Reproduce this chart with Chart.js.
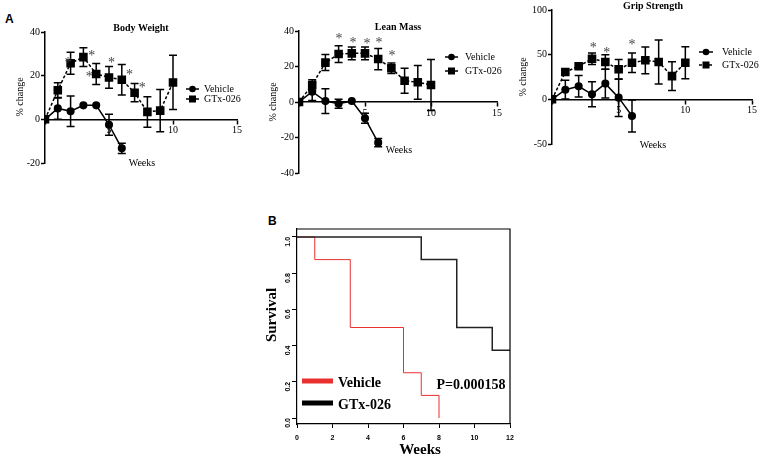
<!DOCTYPE html>
<html lang="en">
<head>
<meta charset="UTF-8">
<title>GTx-026 body composition and survival</title>
<script src="https://cdn.jsdelivr.net/npm/chart.js"></script>
<style>
  body { margin: 0; background: #fff; }
  #wrap { position: relative; width: 760px; height: 458px; overflow: hidden; }
  canvas { position: absolute; }
  .tag { position: absolute; font: bold 12px "Liberation Sans", Arial, sans-serif; color: #000; }
</style>
</head>
<body>
<div id="wrap">
  <div class="tag" style="left:5px;top:12px">A</div>
  <div class="tag" style="left:268px;top:214px">B</div>
  <canvas id="bw" width="250" height="190" style="left:0;top:0"></canvas>
  <canvas id="lm" width="256" height="190" style="left:250px;top:0"></canvas>
  <canvas id="gs" width="260" height="190" style="left:500px;top:0"></canvas>
  <canvas id="surv" width="290" height="243" style="left:240px;top:215px"></canvas>
</div>
<script>
// weeks on study
const weeks = [0, 1, 2, 3, 4, 5, 6, 7, 8, 9, 10];
const vehicleWeeks = [0, 1, 2, 3, 4, 5, 6];

// body weight, % change
const bwVehicle = [0, 5, 3.7, 6.4, 6.4, -2.5, -13.3];
const bwVehicleErr = [0, 5, 7, 0, 0, 4.8, 2.4];
const bwGtx = [0, 13.3, 25.7, 28.5, 20.8, 19.2, 18.1, 12.2, 3.4, 4, 16.9];
const bwGtxErr = [0, 3.5, 5, 4.3, 4.8, 5, 7, 4.2, 7, 9.7, 12.4];
const bwStars = [[1.8, 27], [3.65, 30], [3.45, 20.5], [5.2, 27], [6.6, 21.5], [7.6, 15.5]];

// lean mass, % change
const lmVehicle = [0, 5.8, 0.5, -1, 0.6, -9.2, -22.9];
const lmVehicleErr = [0, 5, 7, 2.5, 0, 2.8, 2.3];
const lmGtx = [0, 9.6, 22.2, 27, 27.4, 27.4, 24.2, 19, 12, 11.1, 9.6];
const lmGtxErr = [0, 3, 4.5, 4.7, 3.6, 3.6, 6, 3, 7, 9.5, 14.4];
const lmStars = [[3.03, 37], [4.1, 34.5], [5.15, 34], [6.06, 34.5], [7.05, 27.5]];

// grip strength, % change
const gsVehicle = [0, 10.8, 14.6, 5.6, 17.6, 1.9, -18.7];
const gsVehicleErr = [0, 10.5, 12, 14, 16, 21, 18];
const gsGtx = [0, 30.6, 37, 45.5, 41.8, 33.6, 41, 43.7, 41.8, 26, 41];
const gsGtxErr = [0, 0, 0, 6.5, 8, 11, 11, 15, 24.5, 16, 18];
const gsStars = [[3.1, 60.5], [4.1, 55], [6.0, 64]];

// Kaplan-Meier survival
const survVehicleWeeks = [0, 1, 3, 6, 7, 8];
const survVehicle = [1, 0.875, 0.5, 0.25, 0.125, 0];
const survGtxWeeks = [0, 7, 9, 11, 12];
const survGtx = [1, 0.875, 0.5, 0.375, 0.375];

const SERIF = '"Liberation Serif", "Times New Roman", serif';
const SANS = '"Liberation Sans", Arial, sans-serif';
const pts = (xs, ys) => xs.map((x, i) => ({ x: x, y: ys[i] }));

function text(ctx, str, x, y, font, align, rot) {
  ctx.save();
  ctx.font = font;
  ctx.fillStyle = '#000';
  ctx.textAlign = align || 'center';
  ctx.textBaseline = 'middle';
  ctx.translate(x, y);
  if (rot) ctx.rotate(rot);
  ctx.fillText(str, 0, 0);
  ctx.restore();
}

function extras(cfg) {
  return {
    id: 'extras',
    beforeDatasetsDraw(chart) {
      const { ctx, scales: { x, y } } = chart;
      ctx.save();
      ctx.strokeStyle = '#000';
      ctx.lineWidth = 1.5;
      [[vehicleWeeks, cfg.veh, cfg.vehErr], [weeks, cfg.gtx, cfg.gtxErr]].forEach(([xs, ys, es]) => {
        xs.forEach((w, i) => {
          if (!es[i]) return;
          const px = x.getPixelForValue(w);
          const t = y.getPixelForValue(ys[i] + es[i]);
          const b = y.getPixelForValue(ys[i] - es[i]);
          ctx.beginPath();
          ctx.moveTo(px, t); ctx.lineTo(px, b);
          ctx.moveTo(px - 4, t); ctx.lineTo(px + 4, t);
          ctx.moveTo(px - 4, b); ctx.lineTo(px + 4, b);
          ctx.stroke();
        });
      });
      ctx.restore();
    },
    afterDraw(chart) {
      const { ctx, scales: { x, y } } = chart;
      // significance marks
      ctx.save();
      ctx.font = '14px ' + SERIF;
      ctx.fillStyle = '#444';
      ctx.textAlign = 'center';
      ctx.textBaseline = 'alphabetic';
      cfg.stars.forEach(([w, v]) => {
        ctx.fillText('*', x.getPixelForValue(w), y.getPixelForValue(v) + 6.5);
      });
      ctx.restore();
      text(ctx, cfg.title, cfg.titleX, cfg.titleY, 'bold 10px ' + SERIF);
      text(ctx, 'Weeks', cfg.weeksX, cfg.weeksY, '10px ' + SERIF);
      text(ctx, '% change', cfg.yTitleX, cfg.yTitleY, '10px ' + SERIF, 'center', -Math.PI / 2);
      // legend
      const L = cfg.legend;
      [['Vehicle', L.y1, [], 'circle'], ['GTx-026', L.y2, [3, 2], 'rect']].forEach(([lab, ly, dash, shape]) => {
        ctx.save();
        ctx.strokeStyle = '#000';
        ctx.fillStyle = '#000';
        ctx.lineWidth = 1.5;
        ctx.setLineDash(dash);
        ctx.beginPath();
        ctx.moveTo(L.x1, ly); ctx.lineTo(L.x2, ly);
        ctx.stroke();
        ctx.setLineDash([]);
        const mx = (L.x1 + L.x2) / 2;
        if (shape === 'circle') {
          ctx.beginPath(); ctx.arc(mx, ly, 3.3, 0, Math.PI * 2); ctx.fill();
        } else {
          ctx.fillRect(mx - 3.5, ly - 3.5, 7, 7);
        }
        ctx.restore();
        text(ctx, lab, L.tx, ly, '10px ' + SERIF, 'left');
      });
    }
  };
}

function panel(id, cfg) {
  const axisTicks = { font: { family: SERIF, size: 10 }, color: '#000', padding: 1 };
  const grid = { drawOnChartArea: false, color: '#000', tickLength: 4, tickWidth: 1.5 };
  const border = { color: '#000', width: 1.5 };
  return new Chart(document.getElementById(id), {
    type: 'line',
    data: {
      datasets: [
        {
          label: 'Vehicle',
          data: pts(vehicleWeeks, cfg.veh),
          borderColor: '#000', backgroundColor: '#000',
          borderWidth: 1.5, pointStyle: 'circle', pointRadius: 3.3, tension: 0
        },
        {
          label: 'GTx-026',
          data: pts(weeks, cfg.gtx),
          borderColor: '#000', backgroundColor: '#000',
          borderWidth: 1.5, borderDash: [3, 2], pointStyle: 'rect', pointRadius: 5, tension: 0
        }
      ]
    },
    options: {
      responsive: false,
      animation: false,
      devicePixelRatio: 1,
      layout: { padding: cfg.pad },
      plugins: { legend: { display: false }, tooltip: { enabled: false } },
      scales: {
        x: {
          type: 'linear', min: 0, max: 15, position: { y: 0 },
          ticks: Object.assign({ stepSize: 5, maxRotation: 0, callback: v => (v === 0 ? '' : v) }, axisTicks),
          grid: grid, border: border
        },
        y: {
          min: cfg.ymin, max: cfg.ymax,
          ticks: Object.assign({ stepSize: cfg.ystep }, axisTicks),
          grid: grid, border: border,
          afterFit: s => { s.width = cfg.yw; }
        }
      }
    },
    plugins: [extras(cfg)]
  });
}

panel('bw', {
  veh: bwVehicle, vehErr: bwVehicleErr, gtx: bwGtx, gtxErr: bwGtxErr, stars: bwStars,
  ymin: -20, ymax: 40, ystep: 20, yw: 45,
  pad: { top: 32, right: 13, bottom: 27, left: 0 },
  title: 'Body Weight', titleX: 141, titleY: 28,
  weeksX: 142, weeksY: 163, yTitleX: 20, yTitleY: 97,
  legend: { x1: 186, x2: 199, tx: 204, y1: 89, y2: 99 }
});

panel('lm', {
  veh: lmVehicle, vehErr: lmVehicleErr, gtx: lmGtx, gtxErr: lmGtxErr, stars: lmStars,
  ymin: -40, ymax: 40, ystep: 20, yw: 49,
  pad: { top: 31, right: 9, bottom: 17, left: 0 },
  title: 'Lean Mass', titleX: 148, titleY: 27,
  weeksX: 149, weeksY: 150, yTitleX: 23, yTitleY: 102,
  legend: { x1: 195, x2: 208, tx: 215, y1: 57, y2: 71 }
});

panel('gs', {
  veh: gsVehicle, vehErr: gsVehicleErr, gtx: gsGtx, gtxErr: gsGtxErr, stars: gsStars,
  ymin: -50, ymax: 100, ystep: 50, yw: 52,
  pad: { top: 10, right: 8, bottom: 46, left: 0 },
  title: 'Grip Strength', titleX: 153, titleY: 6,
  weeksX: 153, weeksY: 145, yTitleX: 23, yTitleY: 77,
  legend: { x1: 199, x2: 213, tx: 222, y1: 52, y2: 65 }
});

// survival panel
const survExtras = {
  id: 'survExtras',
  afterDraw(chart) {
    const { ctx, chartArea: a } = chart;
    ctx.save();
    ctx.strokeStyle = '#000';
    ctx.lineWidth = 1.2;
    ctx.beginPath();
    ctx.moveTo(a.left, a.top); ctx.lineTo(a.right, a.top); ctx.lineTo(a.right, a.bottom);
    ctx.stroke();
    ctx.lineWidth = 5;
    ctx.strokeStyle = '#e8312f';
    ctx.beginPath(); ctx.moveTo(62, 166); ctx.lineTo(93, 166); ctx.stroke();
    ctx.strokeStyle = '#000';
    ctx.beginPath(); ctx.moveTo(62, 188); ctx.lineTo(93, 188); ctx.stroke();
    ctx.restore();
    text(ctx, 'Vehicle', 98, 168, 'bold 14px ' + SERIF, 'left');
    text(ctx, 'GTx-026', 98, 190, 'bold 14px ' + SERIF, 'left');
    text(ctx, 'P=0.000158', 231, 170, 'bold 14px ' + SERIF);
    text(ctx, 'Survival', 32, 100, 'bold 15px ' + SERIF, 'center', -Math.PI / 2);
    text(ctx, 'Weeks', 180, 235, 'bold 15px ' + SERIF);
  }
};

new Chart(document.getElementById('surv'), {
  type: 'line',
  data: {
    datasets: [
      {
        label: 'Vehicle',
        data: pts(survVehicleWeeks, survVehicle),
        borderColor: '#e8312f', borderWidth: 1, stepped: 'before', pointRadius: 0, order: 2
      },
      {
        label: 'GTx-026',
        data: pts(survGtxWeeks, survGtx),
        borderColor: '#222', borderWidth: 1.5, stepped: 'before', pointRadius: 0, order: 1
      }
    ]
  },
  options: {
    responsive: false,
    animation: false,
    devicePixelRatio: 1,
    layout: { padding: { top: 14, right: 20, bottom: 0, left: 0 } },
    plugins: { legend: { display: false }, tooltip: { enabled: false } },
    scales: {
      x: {
        type: 'linear', min: 0, max: 12,
        ticks: { stepSize: 2, maxRotation: 0, font: { family: SANS, size: 7, weight: 'bold' }, color: '#000', padding: 6 },
        grid: { drawOnChartArea: false, color: '#000', tickLength: 4 },
        border: { color: '#000', width: 1.2 },
        afterFit: s => { s.height = 34; }
      },
      y: {
        min: -0.033, max: 1.044,
        ticks: {
          stepSize: 0.2, includeBounds: false, minRotation: 90, maxRotation: 90,
          callback: v => v.toFixed(1),
          font: { family: SANS, size: 7, weight: 'bold' }, color: '#000', padding: 4
        },
        grid: { drawOnChartArea: false, color: '#000', tickLength: 5 },
        border: { color: '#000', width: 1.2 },
        afterFit: s => { s.width = 57; }
      }
    }
  },
  plugins: [survExtras]
});
</script>
</body>
</html>
